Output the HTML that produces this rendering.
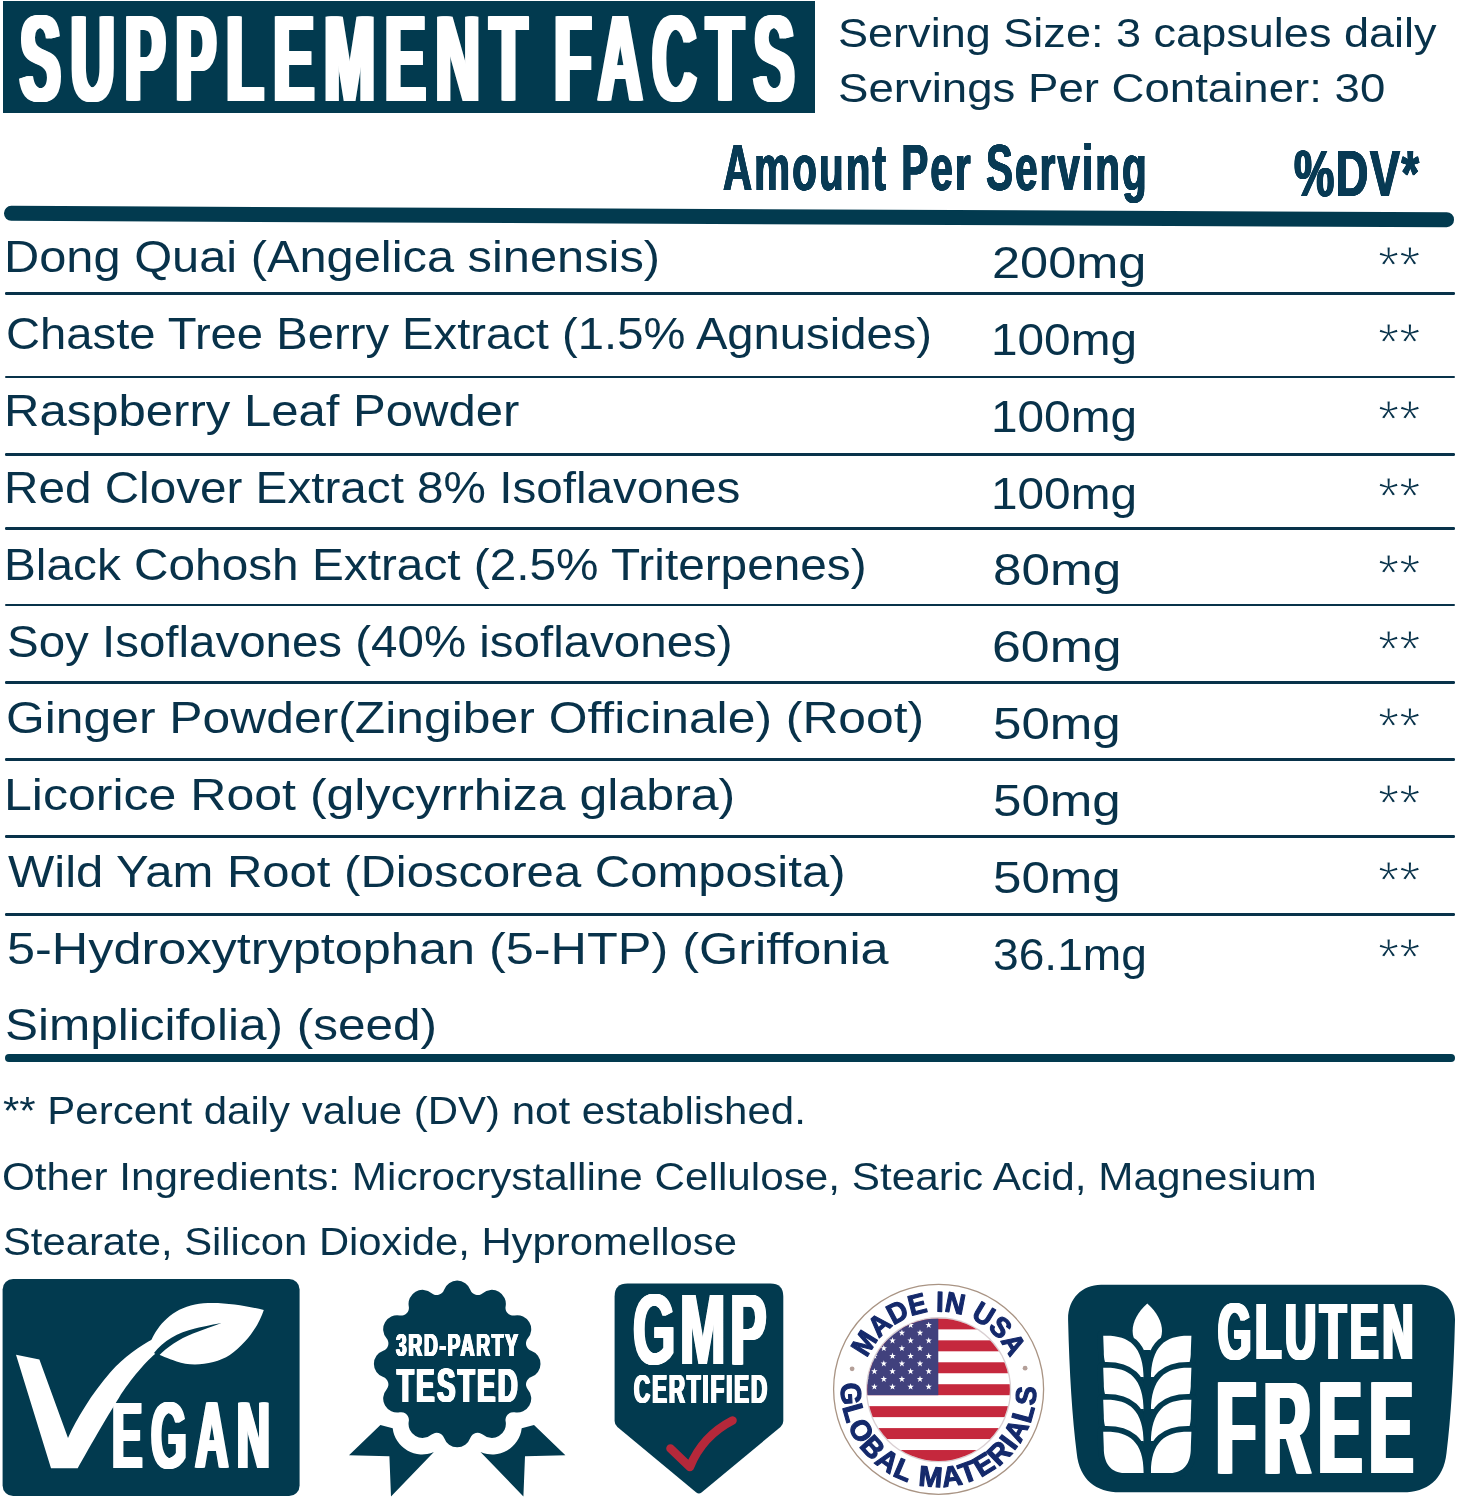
<!DOCTYPE html>
<html><head><meta charset="utf-8"><title>Supplement Facts</title>
<style>
html,body{margin:0;padding:0;background:#fff;}
body{width:1457px;height:1500px;position:relative;overflow:hidden;font-family:"Liberation Sans",sans-serif;color:#08324a;}
.t{position:absolute;white-space:nowrap;line-height:1;transform-origin:0 0;}
.ast{-webkit-text-stroke:1.2px #fff;}
.ln{position:absolute;left:4.5px;width:1450px;height:2.5px;border-radius:1.25px;background:#08324a;}
.hd{position:absolute;left:2.5px;top:1.4px;width:812.5px;height:111.8px;background:#023a4f;}
.thick1{position:absolute;left:4.4px;top:208.9px;width:1450.2px;height:14.6px;border-radius:7.3px;background:#023a4f;transform:rotate(0.255deg);transform-origin:50% 50%;}
.thick2{position:absolute;left:4.6px;top:1054px;width:1450px;height:8px;border-radius:4px;background:#023a4f;}
svg{position:absolute;left:0;top:0;}
</style></head><body>
<div class="hd"></div>
<div class="thick1"></div>
<div class="ln" style="top:292.35px"></div>
<div class="ln" style="top:375.55px"></div>
<div class="ln" style="top:453.15px"></div>
<div class="ln" style="top:527.15px"></div>
<div class="ln" style="top:603.95px"></div>
<div class="ln" style="top:681.25px"></div>
<div class="ln" style="top:758.25px"></div>
<div class="ln" style="top:835.25px"></div>
<div class="ln" style="top:913.25px"></div>
<div class="thick2"></div>
<svg width="1457" height="1500" viewBox="0 0 1457 1500">
<rect x="2.6" y="1278.9" width="297" height="217.1" rx="10.5" ry="10.5" fill="#023a4f"/>
<path fill="#fff" d="M16,1354.7 L39.4,1359.4 L68,1438 C76,1420 92,1393 110.6,1372 C124,1357 140,1346 153,1339 L157.4,1352 C147,1360 130,1380 119,1397.7 C105,1420 88,1450 77.7,1468.3 L51,1468.3 Z"/>
<path fill="#fff" d="M151,1341 C158,1325 172,1309 195,1304.5 C215,1300.5 243,1305 263.8,1310 C259,1325 247,1343 229.8,1355 C215,1364.5 192,1367 176.6,1361.5 C168,1358.5 160,1355 155,1353 Z"/>
<path fill="#023a4f" d="M154,1353 C163,1341 178,1332.5 195,1328.5 C206,1326 215,1324 221.5,1323 C213,1326.5 203,1329.5 193,1333.5 C179,1339 167,1347 158.5,1356 Z"/>
<path fill="#023a4f" d="M531.17,1350.70 A14.0,14.0 0 0 1 531.17,1377.10 A7.75,7.75 0 0 0 527.86,1389.45 A14.0,14.0 0 0 1 514.66,1412.32 A7.75,7.75 0 0 0 505.62,1421.36 A14.0,14.0 0 0 1 482.75,1434.56 A7.75,7.75 0 0 0 470.40,1437.87 A14.0,14.0 0 0 1 444.00,1437.87 A7.75,7.75 0 0 0 431.65,1434.56 A14.0,14.0 0 0 1 408.78,1421.36 A7.75,7.75 0 0 0 399.74,1412.32 A14.0,14.0 0 0 1 386.54,1389.45 A7.75,7.75 0 0 0 383.23,1377.10 A14.0,14.0 0 0 1 383.23,1350.70 A7.75,7.75 0 0 0 386.54,1338.35 A14.0,14.0 0 0 1 399.74,1315.48 A7.75,7.75 0 0 0 408.78,1306.44 A14.0,14.0 0 0 1 431.65,1293.24 A7.75,7.75 0 0 0 444.00,1289.93 A14.0,14.0 0 0 1 470.40,1289.93 A7.75,7.75 0 0 0 482.75,1293.24 A14.0,14.0 0 0 1 505.62,1306.44 A7.75,7.75 0 0 0 514.66,1315.48 A14.0,14.0 0 0 1 527.86,1338.35 A7.75,7.75 0 0 0 531.17,1350.70 Z"/>
<path fill="#023a4f" d="M380.4,1424.9 L392.7,1428.2 A29.6,29.6 0 0 0 433.9,1452 L391.0,1496.5 L389.4,1456.2 L349.0,1455.3 Z"/>
<path fill="#023a4f" d="M534.0,1424.9 L521.7,1428.2 A29.6,29.6 0 0 1 480.5,1452 L523.4,1496.5 L525.0,1456.2 L565.4,1455.3 Z"/>
<path fill="#023a4f" d="M627.6,1283.5 L770.3,1283.5 Q783.3,1283.5 783.3,1296.5 L783.3,1421 Q783.3,1424.5 780.5,1427 L701.5,1492.5 Q698.9,1494.6 696.3,1492.5 L617.4,1427 Q614.6,1424.5 614.6,1421 L614.6,1296.5 Q614.6,1283.5 627.6,1283.5 Z"/>
<path fill="none" stroke="#b5283a" stroke-width="8.6" stroke-linecap="round" stroke-linejoin="round" d="M670.5,1448.5 L689.8,1467 C698,1447 712,1431 732.5,1420.5"/>
<circle cx="938.6" cy="1389.3" r="105" fill="#fff" stroke="#a99484" stroke-width="1.3"/>
<defs><clipPath id="fc"><circle cx="938.6" cy="1389.7" r="71.3"/></clipPath><path id="arcTop" d="M867.25,1358.28 A77.8,77.8 0 0 1 1009.95,1358.28"/><path id="arcBot" d="M841.18,1383.34 A97.6,97.6 0 1 0 1036.02,1383.34"/></defs>
<circle cx="938.6" cy="1389.7" r="72.6" fill="#d9cfd2"/>
<g clip-path="url(#fc)">
<rect x="866.6" y="1318.4" width="144" height="142.6" fill="#fff"/>
<rect x="866.6" y="1318.40" width="144" height="10.97" fill="#c5283d"/>
<rect x="866.6" y="1340.34" width="144" height="10.97" fill="#c5283d"/>
<rect x="866.6" y="1362.28" width="144" height="10.97" fill="#c5283d"/>
<rect x="866.6" y="1384.22" width="144" height="10.97" fill="#c5283d"/>
<rect x="866.6" y="1406.15" width="144" height="10.97" fill="#c5283d"/>
<rect x="866.6" y="1428.09" width="144" height="10.97" fill="#c5283d"/>
<rect x="866.6" y="1450.03" width="144" height="10.97" fill="#c5283d"/>
<rect x="866.6" y="1318.4" width="71.7" height="76.78" fill="#41417d"/>
<polygon fill="#fff" points="928.7,1321.8 929.5,1324.1 931.9,1324.1 930.0,1325.6 930.7,1328.0 928.7,1326.6 926.7,1328.0 927.4,1325.6 925.5,1324.1 927.9,1324.1"/>
<polygon fill="#fff" points="910.6,1321.8 911.4,1324.1 913.8,1324.1 911.9,1325.6 912.6,1328.0 910.6,1326.6 908.6,1328.0 909.3,1325.6 907.4,1324.1 909.8,1324.1"/>
<polygon fill="#fff" points="892.5,1321.8 893.3,1324.1 895.7,1324.1 893.8,1325.6 894.5,1328.0 892.5,1326.6 890.5,1328.0 891.2,1325.6 889.3,1324.1 891.7,1324.1"/>
<polygon fill="#fff" points="874.4,1321.8 875.2,1324.1 877.6,1324.1 875.7,1325.6 876.4,1328.0 874.4,1326.6 872.4,1328.0 873.1,1325.6 871.2,1324.1 873.6,1324.1"/>
<polygon fill="#fff" points="856.3,1321.8 857.1,1324.1 859.5,1324.1 857.6,1325.6 858.3,1328.0 856.3,1326.6 854.3,1328.0 855.0,1325.6 853.1,1324.1 855.5,1324.1"/>
<polygon fill="#fff" points="838.2,1321.8 839.0,1324.1 841.4,1324.1 839.5,1325.6 840.2,1328.0 838.2,1326.6 836.2,1328.0 836.9,1325.6 835.0,1324.1 837.4,1324.1"/>
<polygon fill="#fff" points="920.0,1329.5 920.8,1331.8 923.2,1331.8 921.3,1333.3 922.0,1335.7 920.0,1334.3 918.0,1335.7 918.7,1333.3 916.8,1331.8 919.2,1331.8"/>
<polygon fill="#fff" points="901.9,1329.5 902.7,1331.8 905.1,1331.8 903.2,1333.3 903.9,1335.7 901.9,1334.3 899.9,1335.7 900.6,1333.3 898.7,1331.8 901.1,1331.8"/>
<polygon fill="#fff" points="883.8,1329.5 884.6,1331.8 887.0,1331.8 885.1,1333.3 885.8,1335.7 883.8,1334.3 881.8,1335.7 882.5,1333.3 880.6,1331.8 883.0,1331.8"/>
<polygon fill="#fff" points="865.7,1329.5 866.5,1331.8 868.9,1331.8 867.0,1333.3 867.7,1335.7 865.7,1334.3 863.7,1335.7 864.4,1333.3 862.5,1331.8 864.9,1331.8"/>
<polygon fill="#fff" points="847.6,1329.5 848.4,1331.8 850.8,1331.8 848.9,1333.3 849.6,1335.7 847.6,1334.3 845.6,1335.7 846.3,1333.3 844.4,1331.8 846.8,1331.8"/>
<polygon fill="#fff" points="928.7,1337.2 929.5,1339.5 931.9,1339.5 930.0,1341.0 930.7,1343.4 928.7,1342.0 926.7,1343.4 927.4,1341.0 925.5,1339.5 927.9,1339.5"/>
<polygon fill="#fff" points="910.6,1337.2 911.4,1339.5 913.8,1339.5 911.9,1341.0 912.6,1343.4 910.6,1342.0 908.6,1343.4 909.3,1341.0 907.4,1339.5 909.8,1339.5"/>
<polygon fill="#fff" points="892.5,1337.2 893.3,1339.5 895.7,1339.5 893.8,1341.0 894.5,1343.4 892.5,1342.0 890.5,1343.4 891.2,1341.0 889.3,1339.5 891.7,1339.5"/>
<polygon fill="#fff" points="874.4,1337.2 875.2,1339.5 877.6,1339.5 875.7,1341.0 876.4,1343.4 874.4,1342.0 872.4,1343.4 873.1,1341.0 871.2,1339.5 873.6,1339.5"/>
<polygon fill="#fff" points="856.3,1337.2 857.1,1339.5 859.5,1339.5 857.6,1341.0 858.3,1343.4 856.3,1342.0 854.3,1343.4 855.0,1341.0 853.1,1339.5 855.5,1339.5"/>
<polygon fill="#fff" points="838.2,1337.2 839.0,1339.5 841.4,1339.5 839.5,1341.0 840.2,1343.4 838.2,1342.0 836.2,1343.4 836.9,1341.0 835.0,1339.5 837.4,1339.5"/>
<polygon fill="#fff" points="920.0,1344.9 920.8,1347.2 923.2,1347.2 921.3,1348.7 922.0,1351.1 920.0,1349.7 918.0,1351.1 918.7,1348.7 916.8,1347.2 919.2,1347.2"/>
<polygon fill="#fff" points="901.9,1344.9 902.7,1347.2 905.1,1347.2 903.2,1348.7 903.9,1351.1 901.9,1349.7 899.9,1351.1 900.6,1348.7 898.7,1347.2 901.1,1347.2"/>
<polygon fill="#fff" points="883.8,1344.9 884.6,1347.2 887.0,1347.2 885.1,1348.7 885.8,1351.1 883.8,1349.7 881.8,1351.1 882.5,1348.7 880.6,1347.2 883.0,1347.2"/>
<polygon fill="#fff" points="865.7,1344.9 866.5,1347.2 868.9,1347.2 867.0,1348.7 867.7,1351.1 865.7,1349.7 863.7,1351.1 864.4,1348.7 862.5,1347.2 864.9,1347.2"/>
<polygon fill="#fff" points="847.6,1344.9 848.4,1347.2 850.8,1347.2 848.9,1348.7 849.6,1351.1 847.6,1349.7 845.6,1351.1 846.3,1348.7 844.4,1347.2 846.8,1347.2"/>
<polygon fill="#fff" points="928.7,1352.6 929.5,1354.9 931.9,1354.9 930.0,1356.4 930.7,1358.8 928.7,1357.4 926.7,1358.8 927.4,1356.4 925.5,1354.9 927.9,1354.9"/>
<polygon fill="#fff" points="910.6,1352.6 911.4,1354.9 913.8,1354.9 911.9,1356.4 912.6,1358.8 910.6,1357.4 908.6,1358.8 909.3,1356.4 907.4,1354.9 909.8,1354.9"/>
<polygon fill="#fff" points="892.5,1352.6 893.3,1354.9 895.7,1354.9 893.8,1356.4 894.5,1358.8 892.5,1357.4 890.5,1358.8 891.2,1356.4 889.3,1354.9 891.7,1354.9"/>
<polygon fill="#fff" points="874.4,1352.6 875.2,1354.9 877.6,1354.9 875.7,1356.4 876.4,1358.8 874.4,1357.4 872.4,1358.8 873.1,1356.4 871.2,1354.9 873.6,1354.9"/>
<polygon fill="#fff" points="856.3,1352.6 857.1,1354.9 859.5,1354.9 857.6,1356.4 858.3,1358.8 856.3,1357.4 854.3,1358.8 855.0,1356.4 853.1,1354.9 855.5,1354.9"/>
<polygon fill="#fff" points="838.2,1352.6 839.0,1354.9 841.4,1354.9 839.5,1356.4 840.2,1358.8 838.2,1357.4 836.2,1358.8 836.9,1356.4 835.0,1354.9 837.4,1354.9"/>
<polygon fill="#fff" points="920.0,1360.3 920.8,1362.6 923.2,1362.6 921.3,1364.1 922.0,1366.5 920.0,1365.1 918.0,1366.5 918.7,1364.1 916.8,1362.6 919.2,1362.6"/>
<polygon fill="#fff" points="901.9,1360.3 902.7,1362.6 905.1,1362.6 903.2,1364.1 903.9,1366.5 901.9,1365.1 899.9,1366.5 900.6,1364.1 898.7,1362.6 901.1,1362.6"/>
<polygon fill="#fff" points="883.8,1360.3 884.6,1362.6 887.0,1362.6 885.1,1364.1 885.8,1366.5 883.8,1365.1 881.8,1366.5 882.5,1364.1 880.6,1362.6 883.0,1362.6"/>
<polygon fill="#fff" points="865.7,1360.3 866.5,1362.6 868.9,1362.6 867.0,1364.1 867.7,1366.5 865.7,1365.1 863.7,1366.5 864.4,1364.1 862.5,1362.6 864.9,1362.6"/>
<polygon fill="#fff" points="847.6,1360.3 848.4,1362.6 850.8,1362.6 848.9,1364.1 849.6,1366.5 847.6,1365.1 845.6,1366.5 846.3,1364.1 844.4,1362.6 846.8,1362.6"/>
<polygon fill="#fff" points="928.7,1368.0 929.5,1370.3 931.9,1370.3 930.0,1371.8 930.7,1374.2 928.7,1372.8 926.7,1374.2 927.4,1371.8 925.5,1370.3 927.9,1370.3"/>
<polygon fill="#fff" points="910.6,1368.0 911.4,1370.3 913.8,1370.3 911.9,1371.8 912.6,1374.2 910.6,1372.8 908.6,1374.2 909.3,1371.8 907.4,1370.3 909.8,1370.3"/>
<polygon fill="#fff" points="892.5,1368.0 893.3,1370.3 895.7,1370.3 893.8,1371.8 894.5,1374.2 892.5,1372.8 890.5,1374.2 891.2,1371.8 889.3,1370.3 891.7,1370.3"/>
<polygon fill="#fff" points="874.4,1368.0 875.2,1370.3 877.6,1370.3 875.7,1371.8 876.4,1374.2 874.4,1372.8 872.4,1374.2 873.1,1371.8 871.2,1370.3 873.6,1370.3"/>
<polygon fill="#fff" points="856.3,1368.0 857.1,1370.3 859.5,1370.3 857.6,1371.8 858.3,1374.2 856.3,1372.8 854.3,1374.2 855.0,1371.8 853.1,1370.3 855.5,1370.3"/>
<polygon fill="#fff" points="838.2,1368.0 839.0,1370.3 841.4,1370.3 839.5,1371.8 840.2,1374.2 838.2,1372.8 836.2,1374.2 836.9,1371.8 835.0,1370.3 837.4,1370.3"/>
<polygon fill="#fff" points="920.0,1375.7 920.8,1378.0 923.2,1378.0 921.3,1379.5 922.0,1381.9 920.0,1380.5 918.0,1381.9 918.7,1379.5 916.8,1378.0 919.2,1378.0"/>
<polygon fill="#fff" points="901.9,1375.7 902.7,1378.0 905.1,1378.0 903.2,1379.5 903.9,1381.9 901.9,1380.5 899.9,1381.9 900.6,1379.5 898.7,1378.0 901.1,1378.0"/>
<polygon fill="#fff" points="883.8,1375.7 884.6,1378.0 887.0,1378.0 885.1,1379.5 885.8,1381.9 883.8,1380.5 881.8,1381.9 882.5,1379.5 880.6,1378.0 883.0,1378.0"/>
<polygon fill="#fff" points="865.7,1375.7 866.5,1378.0 868.9,1378.0 867.0,1379.5 867.7,1381.9 865.7,1380.5 863.7,1381.9 864.4,1379.5 862.5,1378.0 864.9,1378.0"/>
<polygon fill="#fff" points="847.6,1375.7 848.4,1378.0 850.8,1378.0 848.9,1379.5 849.6,1381.9 847.6,1380.5 845.6,1381.9 846.3,1379.5 844.4,1378.0 846.8,1378.0"/>
<polygon fill="#fff" points="928.7,1383.4 929.5,1385.7 931.9,1385.7 930.0,1387.2 930.7,1389.6 928.7,1388.2 926.7,1389.6 927.4,1387.2 925.5,1385.7 927.9,1385.7"/>
<polygon fill="#fff" points="910.6,1383.4 911.4,1385.7 913.8,1385.7 911.9,1387.2 912.6,1389.6 910.6,1388.2 908.6,1389.6 909.3,1387.2 907.4,1385.7 909.8,1385.7"/>
<polygon fill="#fff" points="892.5,1383.4 893.3,1385.7 895.7,1385.7 893.8,1387.2 894.5,1389.6 892.5,1388.2 890.5,1389.6 891.2,1387.2 889.3,1385.7 891.7,1385.7"/>
<polygon fill="#fff" points="874.4,1383.4 875.2,1385.7 877.6,1385.7 875.7,1387.2 876.4,1389.6 874.4,1388.2 872.4,1389.6 873.1,1387.2 871.2,1385.7 873.6,1385.7"/>
<polygon fill="#fff" points="856.3,1383.4 857.1,1385.7 859.5,1385.7 857.6,1387.2 858.3,1389.6 856.3,1388.2 854.3,1389.6 855.0,1387.2 853.1,1385.7 855.5,1385.7"/>
<polygon fill="#fff" points="838.2,1383.4 839.0,1385.7 841.4,1385.7 839.5,1387.2 840.2,1389.6 838.2,1388.2 836.2,1389.6 836.9,1387.2 835.0,1385.7 837.4,1385.7"/>
</g>
<circle cx="852.1" cy="1368.8" r="2.4" fill="#b49f98"/><circle cx="1025.1" cy="1368.2" r="2.4" fill="#b49f98"/>
<text font-family="Liberation Sans, sans-serif" font-weight="700" font-size="28.5" fill="#14296b" stroke="#14296b" stroke-width="1.1" stroke-linejoin="round"><textPath href="#arcTop" startOffset="0" textLength="180" lengthAdjust="spacingAndGlyphs">MADE IN USA</textPath></text>
<text font-family="Liberation Sans, sans-serif" font-weight="700" font-size="28.5" fill="#14296b" stroke="#14296b" stroke-width="1.1" stroke-linejoin="round"><textPath href="#arcBot" startOffset="0" letter-spacing="1.5">GLOBAL MATERIALS</textPath></text>
<path fill="#023a4f" d="M1101,1284.8 L1422,1284.8 C1441,1284.8 1455.4,1299 1455,1320 Q1453,1400 1446.5,1453 C1443.5,1480 1427,1492.3 1403,1492.3 L1120,1492.3 C1096,1492.3 1079.5,1480 1076.7,1453 Q1070,1400 1068.1,1320 C1067.7,1299 1082,1284.8 1101,1284.8 Z"/>
<path fill="#fff" d="M1147.3,1303.5 C1156.8,1312 1162.0,1322 1162.0,1331 C1162.0,1341 1155.3,1348 1147.3,1356 C1139.3,1348 1132.6,1341 1132.6,1331 C1132.6,1322 1137.8,1312 1147.3,1303.5 Z"/>
<path d="M1103.2,1335.8 C1127.2,1334.8 1143.7,1343.8 1143.7,1379.8 L1143.7,1377.1 L1124.5,1377.1 C1111.2,1377.1 1103.5,1367.8 1103.8,1351.6 Z" fill="#fff" stroke="#023a4f" stroke-width="11.6" stroke-linejoin="round" paint-order="stroke fill"/>
<path d="M1191.4,1335.8 C1167.4,1334.8 1150.9,1343.8 1150.9,1379.8 L1150.9,1377.1 L1170.1,1377.1 C1183.4,1377.1 1191.1,1367.8 1190.8,1351.6 Z" fill="#fff" stroke="#023a4f" stroke-width="11.6" stroke-linejoin="round" paint-order="stroke fill"/>
<path d="M1103.2,1367.8 C1127.2,1366.8 1143.7,1375.8 1143.7,1411.8 L1143.7,1409.1 L1124.5,1409.1 C1111.2,1409.1 1103.5,1399.8 1103.8,1383.6 Z" fill="#fff" stroke="#023a4f" stroke-width="11.6" stroke-linejoin="round" paint-order="stroke fill"/>
<path d="M1191.4,1367.8 C1167.4,1366.8 1150.9,1375.8 1150.9,1411.8 L1150.9,1409.1 L1170.1,1409.1 C1183.4,1409.1 1191.1,1399.8 1190.8,1383.6 Z" fill="#fff" stroke="#023a4f" stroke-width="11.6" stroke-linejoin="round" paint-order="stroke fill"/>
<path d="M1103.2,1399.8 C1127.2,1398.8 1143.7,1407.8 1143.7,1443.8 L1143.7,1441.1 L1124.5,1441.1 C1111.2,1441.1 1103.5,1431.8 1103.8,1415.6 Z" fill="#fff" stroke="#023a4f" stroke-width="11.6" stroke-linejoin="round" paint-order="stroke fill"/>
<path d="M1191.4,1399.8 C1167.4,1398.8 1150.9,1407.8 1150.9,1443.8 L1150.9,1441.1 L1170.1,1441.1 C1183.4,1441.1 1191.1,1431.8 1190.8,1415.6 Z" fill="#fff" stroke="#023a4f" stroke-width="11.6" stroke-linejoin="round" paint-order="stroke fill"/>
<path d="M1103.2,1431.8 C1127.2,1430.8 1143.7,1439.8 1143.7,1473.1 L1143.7,1473.1 L1124.5,1473.1 C1111.2,1473.1 1103.5,1463.8 1103.8,1447.6 Z" fill="#fff" stroke="#023a4f" stroke-width="11.6" stroke-linejoin="round" paint-order="stroke fill"/>
<path d="M1191.4,1431.8 C1167.4,1430.8 1150.9,1439.8 1150.9,1473.1 L1150.9,1473.1 L1170.1,1473.1 C1183.4,1473.1 1191.1,1463.8 1190.8,1447.6 Z" fill="#fff" stroke="#023a4f" stroke-width="11.6" stroke-linejoin="round" paint-order="stroke fill"/>
<rect x="1143.8999999999999" y="1350" width="6.8" height="126" fill="#023a4f"/>
</svg>
<div class="t" style="left:19.57px;top:-3.12px;font-size:123px;transform:scaleX(0.4950);word-spacing:-20px;letter-spacing:20.42px;text-shadow:1.83px 0 0 #ffffff,-1.83px 0 0 #ffffff,3.67px 0 0 #ffffff,-3.67px 0 0 #ffffff,5.50px 0 0 #ffffff,-5.50px 0 0 #ffffff;font-weight:700;color:#ffffff;">SUPPLEMENT FACTS</div>
<div class="t" style="left:838.39px;top:13.19px;font-size:41px;transform:scaleX(1.0990);">Serving Size: 3 capsules daily</div>
<div class="t" style="left:838.38px;top:68.09px;font-size:41px;transform:scaleX(1.1117);">Servings Per Container: 30</div>
<div class="t" style="left:722.54px;top:135.82px;font-size:64px;transform:scaleX(0.6300);letter-spacing:3.37px;text-shadow:0.30px 0 0 #083a54,-0.30px 0 0 #083a54,0.60px 0 0 #083a54,-0.60px 0 0 #083a54,0.90px 0 0 #083a54,-0.90px 0 0 #083a54;font-weight:700;color:#083a54;">Amount Per Serving</div>
<div class="t" style="left:1293.53px;top:142.22px;font-size:64px;transform:scaleX(0.7077);letter-spacing:2.00px;text-shadow:0.30px 0 0 #083a54,-0.30px 0 0 #083a54,0.60px 0 0 #083a54,-0.60px 0 0 #083a54,0.90px 0 0 #083a54,-0.90px 0 0 #083a54;font-weight:700;color:#083a54;">%DV*</div>
<div class="t" style="left:4.39px;top:235.25px;font-size:44px;transform:scaleX(1.1084);">Dong Quai (Angelica sinensis)</div>
<div class="t" style="left:991.93px;top:240.95px;font-size:44px;transform:scaleX(1.1477);">200mg</div>
<div class="t ast" style="left:1377.55px;top:240.23px;font-size:51px;transform:scaleX(1.0661);">**</div>
<div class="t" style="left:5.99px;top:312.10px;font-size:44px;transform:scaleX(1.0727);">Chaste Tree Berry Extract (1.5% Agnusides)</div>
<div class="t" style="left:991.32px;top:317.80px;font-size:44px;transform:scaleX(1.0850);">100mg</div>
<div class="t ast" style="left:1377.55px;top:317.08px;font-size:51px;transform:scaleX(1.0661);">**</div>
<div class="t" style="left:4.37px;top:388.95px;font-size:44px;transform:scaleX(1.1150);">Raspberry Leaf Powder</div>
<div class="t" style="left:991.32px;top:394.65px;font-size:44px;transform:scaleX(1.0850);">100mg</div>
<div class="t ast" style="left:1377.55px;top:393.93px;font-size:51px;transform:scaleX(1.0661);">**</div>
<div class="t" style="left:4.48px;top:465.80px;font-size:44px;transform:scaleX(1.0830);">Red Clover Extract 8% Isoflavones</div>
<div class="t" style="left:991.32px;top:471.50px;font-size:44px;transform:scaleX(1.0850);">100mg</div>
<div class="t ast" style="left:1377.55px;top:470.78px;font-size:51px;transform:scaleX(1.0661);">**</div>
<div class="t" style="left:4.47px;top:542.65px;font-size:44px;transform:scaleX(1.0854);">Black Cohosh Extract (2.5% Triterpenes)</div>
<div class="t" style="left:992.70px;top:548.35px;font-size:44px;transform:scaleX(1.1646);">80mg</div>
<div class="t ast" style="left:1377.55px;top:547.63px;font-size:51px;transform:scaleX(1.0661);">**</div>
<div class="t" style="left:6.72px;top:619.50px;font-size:44px;transform:scaleX(1.0788);">Soy Isoflavones (40% isoflavones)</div>
<div class="t" style="left:991.87px;top:625.20px;font-size:44px;transform:scaleX(1.1779);">60mg</div>
<div class="t ast" style="left:1377.55px;top:624.48px;font-size:51px;transform:scaleX(1.0661);">**</div>
<div class="t" style="left:5.87px;top:696.35px;font-size:44px;transform:scaleX(1.1321);">Ginger Powder(Zingiber Officinale) (Root)</div>
<div class="t" style="left:992.70px;top:702.05px;font-size:44px;transform:scaleX(1.1608);">50mg</div>
<div class="t ast" style="left:1377.55px;top:701.33px;font-size:51px;transform:scaleX(1.0661);">**</div>
<div class="t" style="left:4.29px;top:773.20px;font-size:44px;transform:scaleX(1.1371);">Licorice Root (glycyrrhiza glabra)</div>
<div class="t" style="left:992.70px;top:778.90px;font-size:44px;transform:scaleX(1.1608);">50mg</div>
<div class="t ast" style="left:1377.55px;top:778.18px;font-size:51px;transform:scaleX(1.0661);">**</div>
<div class="t" style="left:8.20px;top:850.05px;font-size:44px;transform:scaleX(1.1144);">Wild Yam Root (Dioscorea Composita)</div>
<div class="t" style="left:992.70px;top:855.75px;font-size:44px;transform:scaleX(1.1608);">50mg</div>
<div class="t ast" style="left:1377.55px;top:855.03px;font-size:51px;transform:scaleX(1.0661);">**</div>
<div class="t" style="left:6.62px;top:926.90px;font-size:44px;transform:scaleX(1.1458);">5-Hydroxytryptophan (5-HTP) (Griffonia</div>
<div class="t" style="left:992.86px;top:932.60px;font-size:44px;transform:scaleX(1.0489);">36.1mg</div>
<div class="t ast" style="left:1377.55px;top:931.88px;font-size:51px;transform:scaleX(1.0661);">**</div>
<div class="t" style="left:5.45px;top:1003.15px;font-size:44px;transform:scaleX(1.1254);">Simplicifolia) (seed)</div>
<div class="t" style="left:3.34px;top:1091.83px;font-size:38px;transform:scaleX(1.1049);">** Percent daily value (DV) not established.</div>
<div class="t" style="left:1.62px;top:1157.73px;font-size:38px;transform:scaleX(1.1115);">Other Ingredients: Microcrystalline Cellulose, Stearic Acid, Magnesium</div>
<div class="t" style="left:2.79px;top:1223.33px;font-size:38px;transform:scaleX(1.0996);">Stearate, Silicon Dioxide, Hypromellose</div>
<div class="t" style="left:111.79px;top:1388.73px;font-size:94px;transform:scaleX(0.4850);letter-spacing:17.97px;text-shadow:1.27px 0 0 #ffffff,-1.27px 0 0 #ffffff,2.53px 0 0 #ffffff,-2.53px 0 0 #ffffff,3.80px 0 0 #ffffff,-3.80px 0 0 #ffffff;font-weight:700;color:#ffffff;">EGAN</div>
<div class="t" style="left:396.18px;top:1328.91px;font-size:32px;transform:scaleX(0.6000);letter-spacing:2.81px;text-shadow:0.43px 0 0 #ffffff,-0.43px 0 0 #ffffff,0.87px 0 0 #ffffff,-0.87px 0 0 #ffffff,1.30px 0 0 #ffffff,-1.30px 0 0 #ffffff;font-weight:700;color:#ffffff;">3RD-PARTY</div>
<div class="t" style="left:397.12px;top:1361.12px;font-size:49px;transform:scaleX(0.5600);letter-spacing:4.42px;text-shadow:0.67px 0 0 #ffffff,-0.67px 0 0 #ffffff,1.33px 0 0 #ffffff,-1.33px 0 0 #ffffff,2.00px 0 0 #ffffff,-2.00px 0 0 #ffffff;font-weight:700;color:#ffffff;">TESTED</div>
<div class="t" style="left:632.82px;top:1278.95px;font-size:100px;transform:scaleX(0.5450);letter-spacing:8.57px;text-shadow:0.93px 0 0 #ffffff,-0.93px 0 0 #ffffff,1.87px 0 0 #ffffff,-1.87px 0 0 #ffffff,2.80px 0 0 #ffffff,-2.80px 0 0 #ffffff;font-weight:700;color:#ffffff;">GMP</div>
<div class="t" style="left:633.90px;top:1368.84px;font-size:40px;transform:scaleX(0.5600);letter-spacing:3.34px;text-shadow:0.53px 0 0 #ffffff,-0.53px 0 0 #ffffff,1.07px 0 0 #ffffff,-1.07px 0 0 #ffffff,1.60px 0 0 #ffffff,-1.60px 0 0 #ffffff;font-weight:700;color:#ffffff;">CERTIFIED</div>
<div class="t" style="left:1217.79px;top:1292.13px;font-size:79px;transform:scaleX(0.5400);letter-spacing:7.38px;text-shadow:1.07px 0 0 #ffffff,-1.07px 0 0 #ffffff,2.13px 0 0 #ffffff,-2.13px 0 0 #ffffff,3.20px 0 0 #ffffff,-3.20px 0 0 #ffffff;font-weight:700;color:#ffffff;">GLUTEN</div>
<div class="t" style="left:1215.51px;top:1362.31px;font-size:131px;transform:scaleX(0.5000);letter-spacing:14.96px;text-shadow:1.73px 0 0 #ffffff,-1.73px 0 0 #ffffff,3.47px 0 0 #ffffff,-3.47px 0 0 #ffffff,5.20px 0 0 #ffffff,-5.20px 0 0 #ffffff;font-weight:700;color:#ffffff;">FREE</div>
</body></html>
